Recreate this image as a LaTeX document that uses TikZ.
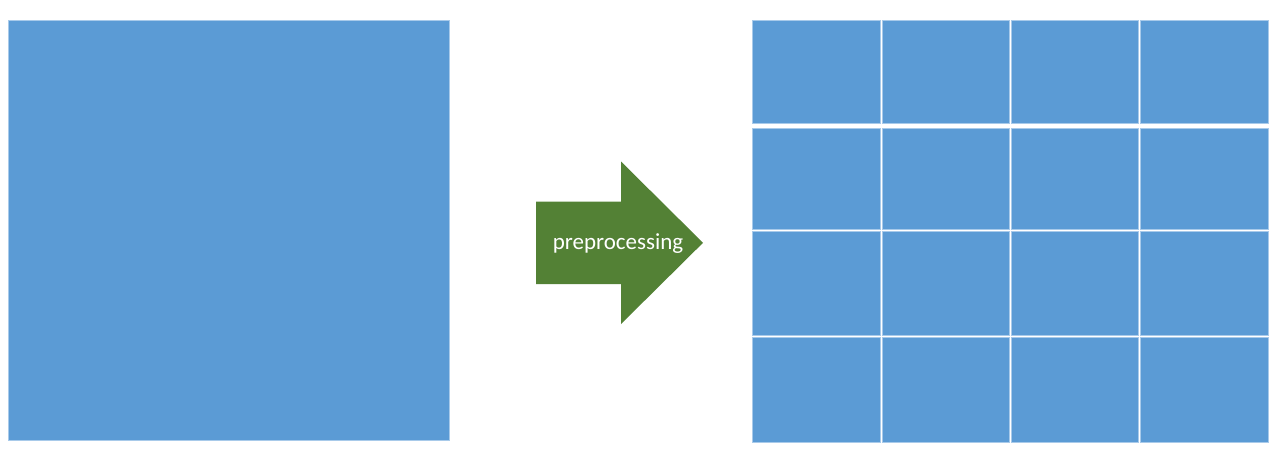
\documentclass[tikz,border=0pt]{standalone}
\usepackage{fontspec}
\setmainfont{Carlito}
\definecolor{cellblue}{HTML}{5B9BD5}
\definecolor{edgeblue}{HTML}{A8CAEA}
\definecolor{arrowgreen}{HTML}{538135}
\begin{document}
\begin{tikzpicture}[x=1pt,y=-1pt,
  blockfill/.style={fill=cellblue,draw=edgeblue,line width=0.4pt},
  arrowfill/.style={fill=arrowgreen}]
\useasboundingbox (0,0) rectangle (1281,467);
% left image
\path[blockfill] (8.5,20.5) rectangle (449,440.5);
% arrow
\path[arrowfill] (536,201.5) -- (621,201.5) -- (621,161.5) -- (703,242.8) -- (621,324) -- (621,284) -- (536,284) -- cycle;
\node[text=white,font=\fontsize{23}{26}\selectfont,anchor=base] (lbl) at (618,249.5) {preprocessing};
% grid
\foreach \xa/\xb in {752.5/880,882/1009,1011/1138,1140/1268.3}{
  \foreach \ya/\yb in {20.5/123.3,127.7/229.5,231.5/335.5,337.5/442.3}{
    \path[blockfill] (\xa,\ya) rectangle (\xb,\yb);
  }
}
\end{tikzpicture}
\end{document}
